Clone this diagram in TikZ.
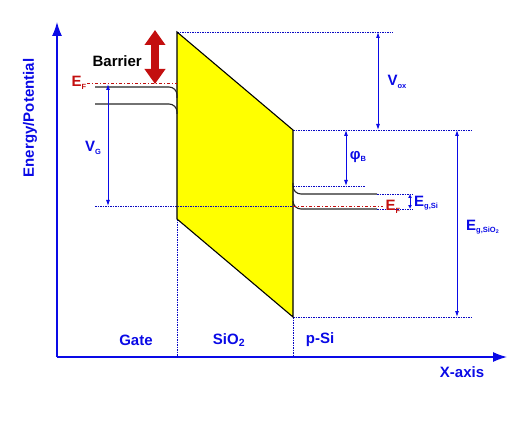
\documentclass[tikz,border=0pt]{standalone}
\usepackage{fontspec}
\setmainfont{Liberation Sans}
\usepackage{tikz}
\usetikzlibrary{positioning, arrows.meta}

\definecolor{axisblue}{RGB}{10,10,230}
\definecolor{fermired}{RGB}{195,15,15}
\definecolor{oxyellow}{RGB}{255,255,0}
\newcommand{\lsub}[1]{\raisebox{-0.3ex}{\fontsize{7.5}{8}\selectfont #1}}

\begin{document}
\begin{tikzpicture}[x=1pt, y=-1pt,
  every node/.style={inner sep=1pt},
  lbl/.style={font=\fontsize{15}{17}\selectfont\bfseries, text=axisblue},
  redlbl/.style={font=\fontsize{15}{17}\selectfont\bfseries, text=fermired},
  dotline/.style={axisblue!85!black, line width=0.9pt, dash pattern=on 1.5pt off 1pt},
  fermiline/.style={fermired, line width=0.9pt, dash pattern=on 3pt off 2pt on 1pt off 2pt},
  band/.style={black!85, line width=1.1pt, rounded corners=8pt},
  dim/.style={{Latex[length=6pt,width=4pt]}-{Latex[length=6pt,width=4pt]}, axisblue, line width=0.9pt},
  axis/.style={-{Latex[length=14pt,width=10pt]}, axisblue, line width=1.3pt}
]
\useasboundingbox (0,0) rectangle (529,438);

% axes
\coordinate (origin) at (57,357);
\coordinate (ytip) at (57,22);
\coordinate (xtip) at (507,357);
\draw[axis] (origin) -- (ytip);
\draw[axis] (origin) -- (xtip);
\node[lbl, rotate=90] (ylabel) at (30,118) {Energy/Potential};
\node[lbl] (xlabel) at (462,372) {X-axis};

% oxide
\coordinate (oxTL) at (177,32);
\coordinate (oxTR) at (293,130);
\coordinate (oxBR) at (293,317);
\coordinate (oxBL) at (177,219);
\fill[oxyellow] (oxTL) -- (oxTR) -- (oxBR) -- (oxBL) -- cycle;

% region borders
\draw[dotline] (oxBL) -- (177,357);
\draw[dotline] (oxBR) -- (293,357);
\node[lbl] (gate) at (136,340) {Gate};
\node[lbl] (oxide) at (229,340) {SiO\textsubscript{2}};
\node[lbl] (psi) at (320,340) {p-Si};

% reference levels
\coordinate (vgBot) at (108,206);
\coordinate (vgTop) at (108,84);
\draw[dotline] (95,206) -- (oxBR |- vgBot);
\draw[dotline] (oxTL) -- (393,32);
\draw[dotline] (oxTR) -- (473,130);
\draw[dotline] (oxBR) -- (473,317);
\draw[dotline] (293,186) -- (365,186);
\draw[dotline] (377,194) -- (413,194);
\draw[dotline] (377,209) -- (413,209);

\draw[black, line width=1.1pt] (oxTL) -- (oxTR) -- (oxBR) -- (oxBL) -- cycle;

% gate bands
\draw[fermiline] (87,83) -- (177,83);
\draw[band] (95,87) -| (177,98);
\draw[band] (95,104) -| (177,114);
\node[redlbl] (efGate) at (79,83) {E\lsub{F}};

% silicon bands
\draw[band] (293,183) |- (377,194);
\draw[band] (293,201) |- (377,209);
\draw[fermiline] (293,206) -- (383,206);
\node[redlbl] (efSi) at (393,207) {E\lsub{F}};

% dimensions
\coordinate (voxTop) at (378,32);
\coordinate (voxBot) at (378,130);
\coordinate (phiTop) at (346,130);
\coordinate (phiBot) at (346,186);
\coordinate (egoxTop) at (457,130);
\coordinate (egoxBot) at (457,317);
\coordinate (egsiTop) at (410,194);
\coordinate (egsiBot) at (410,209);
\draw[dim] (vgTop) -- (vgBot);
\draw[dim] (voxTop) -- (voxBot);
\draw[dim] (phiTop) -- (phiBot);
\draw[dim] (egoxTop) -- (egoxBot);
\draw[dim, {Latex[length=4pt,width=4pt]}-{Latex[length=4pt,width=4pt]}] (egsiTop) -- (egsiBot);
\node[lbl] (vg) at (93,148) {V\lsub{G}};
\node[lbl] (vox) at (397,82) {V\lsub{ox}};
\node[lbl] (phib) at (358,157) {φ\lsub{B}};
\node[lbl, anchor=west] (egsi) at (413,203) {E\lsub{g,Si}};
\node[lbl, anchor=west] (egox) at (465,227) {E\lsub{g,SiO\textsubscript{2}}};

% barrier
\coordinate (barTop) at (155,30);
\coordinate (barBot) at (155,84);
\draw[{Triangle[length=15pt,width=20pt]}-{Triangle[length=15pt,width=20pt]}, fermired, line width=8pt] (barTop) -- (barBot);
\node[font=\fontsize{15}{17}\selectfont\bfseries, left=12pt of barTop, yshift=-31pt] (barrier) {Barrier};
\end{tikzpicture}
\end{document}
